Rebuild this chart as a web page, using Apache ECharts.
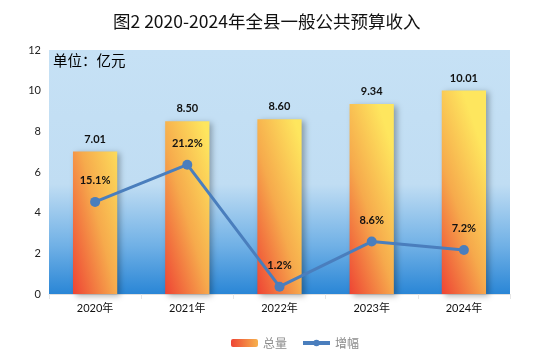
<!DOCTYPE html>
<html>
<head>
<meta charset="utf-8">
<script src="https://cdn.jsdelivr.net/npm/echarts@6/dist/echarts.min.js"></script>
<style>html,body{margin:0;padding:0;background:#fff}#c{width:544px;height:360px}</style>
</head>
<body>
<div id="c"></div>
<script>
var categories = ['2020年', '2021年', '2022年', '2023年', '2024年'];
var totalValues = [7.01, 8.50, 8.60, 9.34, 10.01];
var growthValues = [15.1, 21.2, 1.2, 8.6, 7.2];
var yTicks = [0, 2, 4, 6, 8, 10, 12];

var FONT = "Lato, 'Noto Sans CJK SC', sans-serif";
var chart = echarts.init(document.getElementById('c'), null, {renderer: 'canvas'});
var barGrad = new echarts.graphic.LinearGradient(0, 1, 1.85, 0.86, [
  {offset: 0, color: '#ee4434'},
  {offset: 0.5, color: '#f6aa4c'},
  {offset: 1, color: '#fee65e'}
]);
chart.setOption({
  animation: false,
  title: {
    text: '图2 2020-2024年全县一般公共预算收入',
    left: 108, top: 8,
    textStyle: {fontFamily: "'Noto Sans CJK SC', sans-serif", fontSize: 17.5, fontWeight: 'normal', color: '#111'}
  },
  graphic: [{
    type: 'text', left: 53, top: 53, z: 10,
    style: {text: '单位：亿元', fontFamily: "'Noto Sans CJK SC', sans-serif", fontSize: 14.5, fill: '#000'}
  }],
  legend: {
    bottom: 6, left: 226, itemWidth: 27, itemHeight: 8, itemGap: 14,
    textStyle: {fontFamily: "'Noto Sans CJK SC', sans-serif", fontSize: 12, color: '#8c8c8c'},
    data: ['总量', {name: '增幅', lineStyle: {width: 4}, itemStyle: {color: '#4a7ebd'}}]
  },
  grid: {
    left: 49, right: 34, top: 50, bottom: 66, show: true, borderWidth: 0,
    backgroundColor: new echarts.graphic.LinearGradient(0, 0, 0, 1, [
      {offset: 0, color: '#c6e1f5'},
      {offset: 0.55, color: '#c0ddf3'},
      {offset: 0.8, color: '#71b1e6'},
      {offset: 1, color: '#2a86d6'}
    ])
  },
  xAxis: {
    type: 'category', data: categories,
    axisLine: {show: true, lineStyle: {color: '#e0e0e0'}},
    axisTick: {show: true, length: 5, lineStyle: {color: '#e6e6e6'}},
    axisLabel: {fontFamily: FONT, fontSize: 11, color: '#111', margin: 9}
  },
  yAxis: [{
    type: 'value', min: yTicks[0], max: yTicks[yTicks.length - 1], interval: 2,
    axisLine: {show: false}, axisTick: {show: false}, splitLine: {show: false},
    axisLabel: {fontFamily: FONT, fontSize: 11, color: '#222', margin: 8}
  }, {
    type: 'value', min: 0, max: 40, show: false, splitLine: {show: false}
  }],
  series: [{
    name: '总量', type: 'bar', data: totalValues, barWidth: '48%',
    itemStyle: {color: barGrad, shadowColor: 'rgba(0,0,0,0.3)', shadowBlur: 6, shadowOffsetX: 3, shadowOffsetY: 2},
    label: {show: true, position: 'top', distance: 7, fontFamily: FONT, fontSize: 11, fontWeight: 'bold', color: '#111',
      formatter: function (p) { return p.value.toFixed(2); }}
  }, {
    name: '增幅', type: 'line', yAxisIndex: 1, data: growthValues,
    symbol: 'circle', symbolSize: 10,
    lineStyle: {color: '#4a7ebd', width: 3},
    itemStyle: {color: '#4a7ebd'},
    label: {show: true, position: 'top', distance: 11, fontFamily: FONT, fontSize: 11, fontWeight: 'bold', color: '#111',
      formatter: function (p) { return p.value.toFixed(1) + '%'; }}
  }]
});
</script>
</body>
</html>
